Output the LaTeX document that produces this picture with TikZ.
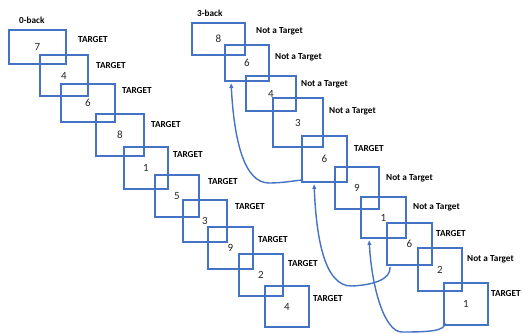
\documentclass[tikz,border=0pt]{standalone}
\usepackage{fontspec}
\setmainfont{Carlito}
\usetikzlibrary{arrows.meta,calc}
\definecolor{ofblue}{HTML}{4472C4}
\tikzset{
  sq/.style={draw=ofblue, line width=1.8pt, inner sep=0pt, font=\fontsize{11}{13}\selectfont, text=black!85},
  lbl/.style={anchor=base west, inner sep=0pt, font=\bfseries\fontsize{9.2}{11}\selectfont},
  ttl/.style={anchor=base west, inner sep=0pt, font=\bfseries\fontsize{9.2}{11}\selectfont},
  link/.style={draw=ofblue, line width=1.4pt, -{Latex[length=5pt,width=4.5pt]}}
}
\newcommand\bx[6]{\node[sq, minimum width=#4pt, minimum height=#5pt] (#1) at (#2,#3) {#6};}
\begin{document}
\begin{tikzpicture}[x=1pt,y=-1pt]
\useasboundingbox (0,0) rectangle (522,333);
% 0-back
\node[ttl] (t0) at (19,23) {0-back};
\bx{a1}{37.5}{47}{57}{34}{7}
\bx{a2}{64}{75.5}{48}{41}{4}
\bx{a3}{88}{103}{54}{38}{6}
\bx{a4}{120}{135}{48}{42}{8}
\bx{a5}{146}{168}{44}{42}{1}
\bx{a6}{177}{196}{44}{42}{5}
\bx{a7}{205}{221}{44}{42}{3}
\bx{a8}{230.5}{248}{45}{42}{9}
\bx{a9}{261}{275}{44}{42}{2}
\bx{a10}{287}{306.5}{44}{41}{4}
\node[lbl] (la1) at (78,42.2) {TARGET};
\node[lbl] (la2) at (96,68.2) {TARGET};
\node[lbl] (la3) at (122,93.2) {TARGET};
\node[lbl] (la4) at (151,127.2) {TARGET};
\node[lbl] (la5) at (173,157.2) {TARGET};
\node[lbl] (la6) at (208,184.2) {TARGET};
\node[lbl] (la7) at (235,209.2) {TARGET};
\node[lbl] (la8) at (258,242.2) {TARGET};
\node[lbl] (la9) at (288,266.2) {TARGET};
\node[lbl] (la10) at (313,301.2) {TARGET};
% 3-back
\node[ttl] (t3) at (197,16) {3-back};
\bx{b1}{218.5}{39}{53}{32}{8}
\bx{b2}{247}{63}{44}{36}{6}
\bx{b3}{271}{93.5}{50}{35}{4}
\bx{b4}{298}{122.5}{50}{49}{3}
\bx{b5}{324.5}{159}{45}{46}{6}
\bx{b6}{357}{188}{44}{42}{9}
\bx{b7}{383.5}{217.5}{45}{41}{1}
\bx{b8}{409.5}{244}{45}{42}{6}
\bx{b9}{440}{269.5}{44}{43}{2}
\bx{b10}{466}{304}{44}{42}{1}
\node[lbl] (lb1) at (256,33.2) {Not a Target};
\node[lbl] (lb2) at (275,59.2) {Not a Target};
\node[lbl] (lb3) at (301,86.2) {Not a Target};
\node[lbl] (lb4) at (329,113.2) {Not a Target};
\node[lbl] (lb5) at (354,151.2) {TARGET};
\node[lbl] (lb6) at (386,180.2) {Not a Target};
\node[lbl] (lb7) at (413,209.2) {Not a Target};
\node[lbl] (lb8) at (436,236.2) {TARGET};
\node[lbl] (lb9) at (467,261.2) {Not a Target};
\node[lbl] (lb10) at (491,296.2) {TARGET};
% arrows
\coordinate (k1) at (269,183);
\coordinate (k2) at (352,286);
\coordinate (k3) at (402,332);
\draw[link] ($(b5.south west)+(2,-3)$) .. controls (292,181) and (282,183) .. (k1)
   .. controls (244,183) and (234,140) .. ($(b2.south west)+(7,1)$);
\draw[link] ($(b8.south west)+(4,1)$) .. controls (391,280) and (372,285) .. (k2)
   .. controls (323,287) and (316,232) .. ($(b5.south west)+(13,1)$);
\draw[link] ($(b10.south west)+(2,-3)$) .. controls (445,331) and (430,332) .. (k3)
   .. controls (385,332) and (372,290) .. ($(b7.south west)+(9,1)$);
\end{tikzpicture}
\end{document}
